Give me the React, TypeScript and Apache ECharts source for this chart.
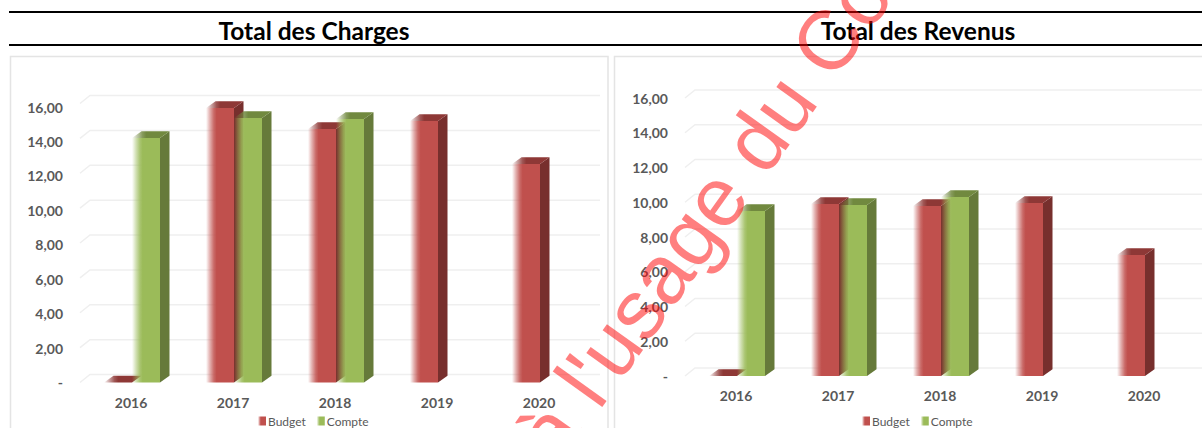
import React, { useEffect, useRef } from "react";
import * as echarts from "echarts";

const categories = ["2016", "2017", "2018", "2019", "2020"];
const chargesBudget = [0, 15.94, 14.72, 15.19, 12.69];
const chargesCompte = [14.2, 15.36, 15.3, null, null];
const revenusBudget = [0, 9.9, 9.78, 9.96, 6.96];
const revenusCompte = [9.5, 9.84, 10.3, null, null];
const ticks = [0, 2, 4, 6, 8, 10, 12, 14, 16];
const titles = ["Total des Charges", "Total des Revenus"];
const seriesNames = ["Budget", "Compte"];
const watermark = "à l'usage du Co";

const WALL_DX = 10;
const WALL_DY = 8;
const DX = 9.5;
const DY = 6.8;
const BAR = 28;
const grey = "#595959";
const reds = { front: "#C0504D", side: "#772F2D", top: "#8E3836" };
const greens = { front: "#9BBB59", side: "#667A3A", top: "#71893F" };

function fade(hex: string) {
  const n = parseInt(hex.slice(1), 16);
  const rgb = `${(n >> 16) & 255},${(n >> 8) & 255},${n & 255}`;
  return new echarts.graphic.LinearGradient(0, 0, 1, 0, [
    { offset: 0, color: `rgba(${rgb},0)` },
    { offset: 0.14, color: `rgba(${rgb},0.45)` },
    { offset: 0.28, color: `rgba(${rgb},0.85)` },
    { offset: 0.38, color: `rgba(${rgb},1)` },
    { offset: 1, color: `rgba(${rgb},1)` },
  ]);
}

function barRenderer(pal: typeof reds, startOffset: number) {
  return (_p: any, api: any) => {
    const v = api.value(1);
    if (v === null || v === undefined || isNaN(v)) return { type: "group", children: [] };
    const [cx, yt] = api.coord([api.value(0), v]);
    const [, yb] = api.coord([api.value(0), 0]);
    const x0 = cx + startOffset;
    const x1 = x0 + BAR;
    const kids: any[] = [];
    if (yb - yt > 0.5) {
      kids.push({
        type: "polygon",
        shape: { points: [[x0, yt], [x1, yt], [x1, yb], [x0, yb]] },
        style: { fill: fade(pal.front) },
      });
      kids.push({
        type: "polygon",
        shape: { points: [[x1, yt], [x1 + DX, yt - DY], [x1 + DX, yb - DY], [x1, yb]] },
        style: { fill: pal.side },
      });
    }
    kids.push({
      type: "polygon",
      shape: { points: [[x0, yt], [x0 + DX, yt - DY], [x1 + DX, yt - DY], [x1, yt]] },
      style: { fill: fade(pal.top) },
    });
    return { type: "group", children: kids };
  };
}

function wallRenderer(wallScale: number) {
  return (_p: any, api: any) => {
    const t = api.value(1);
    const half = api.size([1, 0])[0] / 2;
    const [cx0, y] = api.coord([0, t]);
    const [, y0] = api.coord([0, 0]);
    const [cxN] = api.coord([categories.length - 1, t]);
    const yf = y0 - (y0 - y) * wallScale;
    return {
      type: "polyline",
      shape: {
        points: [
          [cx0 - half, yf],
          [cx0 - half + WALL_DX, yf - WALL_DY],
          [cxN + half + WALL_DX, yf - WALL_DY],
        ],
      },
      style: { stroke: "#EFEFEF", lineWidth: 1.5, fill: "none" },
    };
  };
}

function panelSeries(idx: number, budget: (number | null)[], compte: (number | null)[], wallScale: number) {
  const toData = (a: (number | null)[]) => a.map((v, i) => [i, v]);
  const base = { type: "custom", coordinateSystem: "cartesian2d", xAxisIndex: idx, yAxisIndex: idx, clip: false, silent: true };
  return [
    { ...base, name: "wall" + idx, z: 1, data: ticks.map((t) => [0, t]), renderItem: wallRenderer(wallScale) },
    { ...base, name: seriesNames[0], z: 2, data: toData(budget), itemStyle: { color: reds.front }, renderItem: barRenderer(reds, -27) },
    { ...base, name: seriesNames[1], z: 3, data: toData(compte), itemStyle: { color: greens.front }, renderItem: barRenderer(greens, 1) },
  ];
}

const axisLabelFont = { fontFamily: "Lato", fontWeight: "bold" as const, fontSize: 14, color: grey };

export default function App() {
  const ref = useRef<HTMLDivElement>(null);
  useEffect(() => {
    const chart = echarts.init(ref.current!, undefined, { renderer: "svg" });
    const grids = [
      { left: 80, top: 107, width: 510, height: 275.5 },
      { left: 685, top: 98, width: 510, height: 278 },
    ];
    const legendBase = {
      data: [
        { name: seriesNames[0], itemStyle: { color: fade(reds.front) } },
        { name: seriesNames[1], itemStyle: { color: fade(greens.front) } },
      ],
      orient: "horizontal",
      icon: "rect",
      itemWidth: 8,
      itemHeight: 9,
      itemGap: 11,
      selectedMode: false,
      top: 415,
      padding: 0,
      textStyle: { fontFamily: "Lato", fontSize: 12, color: grey, padding: [0, 0, 0, -3] },
    };
    chart.setOption({
      animation: false,
      backgroundColor: "#fff",
      grid: grids,
      legend: [
        { ...legendBase, left: 258 },
        { ...legendBase, left: 862 },
      ],
      xAxis: grids.map((_, i) => ({
        type: "category",
        gridIndex: i,
        data: categories,
        axisLine: { show: false },
        axisTick: { show: false },
        axisLabel: { ...axisLabelFont, margin: 12.5 },
      })),
      yAxis: grids.map((_, i) => ({
        type: "value",
        gridIndex: i,
        min: 0,
        max: 16,
        interval: 2,
        axisLine: { show: false },
        axisTick: { show: false },
        splitLine: { show: false },
        axisLabel: {
          ...axisLabelFont,
          margin: 17,
          formatter: (v: number) => (v === 0 ? "-" : v.toFixed(2).replace(".", ",")),
        },
      })),
      series: [
        ...panelSeries(0, chargesBudget, chargesCompte, 279 / 275.5),
        ...panelSeries(1, revenusBudget, revenusCompte, 1),
      ],
      graphic: [
        { type: "rect", z: -1, shape: { x: 10.5, y: 56.5, width: 597.5, height: 400 }, style: { fill: "#fff", stroke: "#E4E4E4", lineWidth: 1.5 } },
        { type: "rect", z: -1, shape: { x: 614.5, y: 56.5, width: 620, height: 400 }, style: { fill: "#fff", stroke: "#E4E4E4", lineWidth: 1.5 } },
        { type: "line", z: 5, shape: { x1: 9, y1: 12, x2: 1202, y2: 12 }, style: { stroke: "#000", lineWidth: 2 } },
        { type: "line", z: 5, shape: { x1: 9, y1: 45, x2: 1202, y2: 45 }, style: { stroke: "#000", lineWidth: 2 } },
        { type: "text", z: 5, x: 314, y: 30, style: { text: titles[0], font: "bold 24.5px Lato", fill: "#000", align: "center", verticalAlign: "middle" } },
        { type: "text", z: 5, x: 918, y: 30, style: { text: titles[1], font: "bold 24.5px Lato", fill: "#000", align: "center", verticalAlign: "middle" } },
        {
          type: "text",
          z: 50,
          x: 569,
          y: 476,
          rotation: (54.5 * Math.PI) / 180,
          silent: true,
          style: { text: watermark, font: "84px 'Liberation Sans'", fill: "rgba(255,0,0,0.5)", align: "left", verticalAlign: "bottom" },
        },
      ],
    });
    return () => chart.dispose();
  }, []);
  return <div ref={ref} style={{ position: "fixed", left: 0, top: 0, width: 1202, height: 428 }} />;
}
